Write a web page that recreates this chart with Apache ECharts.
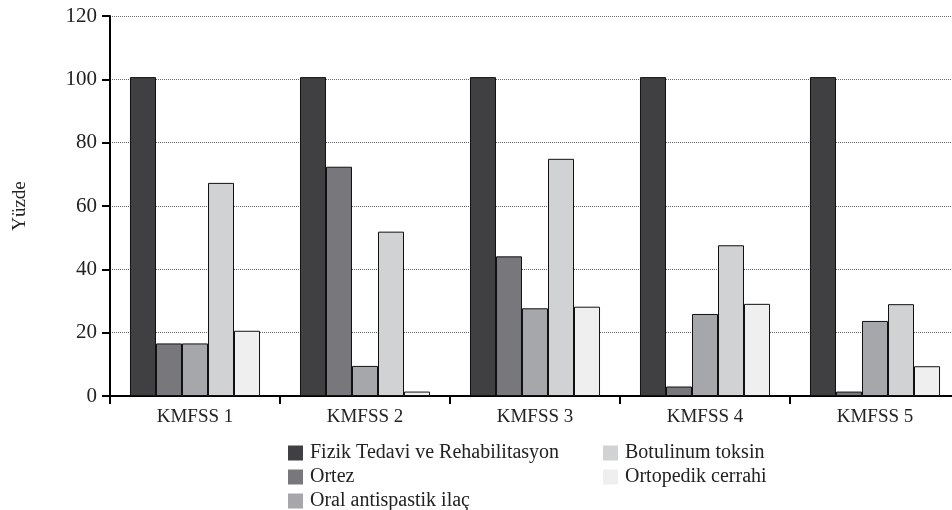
<!DOCTYPE html>
<html>
<head>
<meta charset="utf-8">
<script src="https://cdn.jsdelivr.net/npm/echarts@6/dist/echarts.min.js"></script>
<style>html,body{margin:0;padding:0;background:#fff}#c{width:952px;height:510px}</style>
</head>
<body>
<div id="c"></div>
<script>
const categories = ['KMFSS 1', 'KMFSS 2', 'KMFSS 3', 'KMFSS 4', 'KMFSS 5'];
const fizik = [100.7, 100.7, 100.7, 100.7, 100.7];
const ortez = [16.6, 72.4, 44.1, 3.0, 1.4];
const oral = [16.6, 9.5, 27.7, 25.9, 23.7];
const botulinum = [67.3, 51.9, 74.9, 47.6, 29.0];
const ortopedik = [20.6, 1.4, 28.2, 29.1, 9.4];
const yTicks = [0, 20, 40, 60, 80, 100, 120];

const names = ['Fizik Tedavi ve Rehabilitasyon', 'Ortez', 'Oral antispastik ilaç', 'Botulinum toksin', 'Ortopedik cerrahi'];
const colors = ['#404042', '#78787c', '#a6a7aa', '#d1d2d4', '#efefef'];
const seriesData = [fizik, ortez, oral, botulinum, ortopedik];
const FONT = '"Liberation Serif", "DejaVu Serif", serif';

const chart = echarts.init(document.getElementById('c'), null, {renderer: 'canvas'});
const legendCommon = {
  orient: 'vertical', top: 443, height: 100, padding: 0,
  itemWidth: 15, itemHeight: 15, itemGap: 4,
  icon: 'rect', itemStyle: {borderWidth: 0},
  textStyle: {fontFamily: FONT, fontSize: 20, color: '#222', padding: [0, 0, 0, 2]}
};
chart.setOption({
  animation: false,
  color: colors,
  grid: {left: 110, width: 850, top: 16, bottom: 114, outerBoundsMode: 'none', containLabel: false},
  legend: [
    Object.assign({left: 288, data: names.slice(0, 3)}, legendCommon),
    Object.assign({left: 603, data: names.slice(3)}, legendCommon)
  ],
  xAxis: {
    type: 'category', data: categories, boundaryGap: true,
    axisLine: {lineStyle: {color: '#000', width: 2}},
    axisTick: {show: true, length: 8, lineStyle: {color: '#000', width: 2}},
    axisLabel: {fontFamily: FONT, fontSize: 19, color: '#222', margin: 12}
  },
  yAxis: {
    type: 'value', min: yTicks[0], max: yTicks[yTicks.length - 1], interval: 20,
    name: 'Yüzde', nameLocation: 'middle', nameGap: 80, nameRotate: 90,
    nameTextStyle: {fontFamily: FONT, fontSize: 19, color: '#222'},
    axisLine: {show: true, lineStyle: {color: '#000', width: 2}},
    axisTick: {show: true, length: 8, lineStyle: {color: '#000', width: 2}},
    axisLabel: {fontFamily: FONT, fontSize: 21, color: '#222', margin: 13},
    splitLine: {show: true, lineStyle: {color: '#666', width: 1, type: [1, 1]}}
  },
  series: seriesData.map((d, i) => ({
    name: names[i], type: 'bar', data: d,
    barGap: '0%', barCategoryGap: '23.5%',
    itemStyle: {color: colors[i], borderColor: '#111', borderWidth: 1}
  }))
});
</script>
</body>
</html>
